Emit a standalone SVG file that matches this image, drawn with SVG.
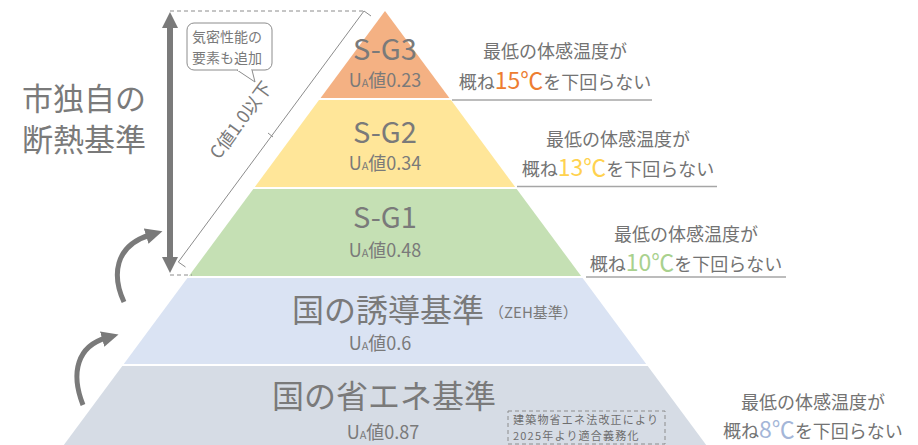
<svg xmlns="http://www.w3.org/2000/svg" width="918" height="445" viewBox="0 0 918 445">
<style>
  text { font-family: "Noto Sans CJK JP", "Noto Sans", sans-serif; fill: #7a7a7a; }
  .big { font-size: 29px; }
  .ua { font-size: 18px; }
  .rt { font-size: 18px; fill: #737373; }
  .num { font-size: 23px; }
  .ul { stroke: #a6a6a6; stroke-width: 1.5; fill: none; }
  .dash { stroke: #8c8c8c; stroke-width: 1; stroke-dasharray: 4 3; fill: none; }
  .arr { stroke: #7a7a7a; stroke-width: 5; fill: none; }
  .thin { stroke: #8c8c8c; stroke-width: 1; fill: none; }
  .note { font-size: 11px; letter-spacing: 1.2px; fill: #6e6e6e; }
</style>
<defs>
  <marker id="ah" markerUnits="userSpaceOnUse" markerWidth="20" markerHeight="20" refX="4" refY="8" orient="auto">
    <path d="M0,0 L17,8 L0,16 Z" fill="#7a7a7a"/>
  </marker>
</defs>
<rect width="918" height="445" fill="#ffffff"/>

<g id="layer-sg3">
  <polygon points="385,11 449.4,98 320.6,98" fill="#F4B183"/>
  <text class="big" x="385" y="60" text-anchor="middle">S-G3</text>
  <text class="ua" x="385" y="87" text-anchor="middle">U<tspan font-size="11">A</tspan>値0.23</text>
</g>
<g id="layer-sg2">
  <polygon points="319,100 451,100 515.2,187 254.8,187" fill="#FFE699"/>
  <text class="big" x="385" y="143" text-anchor="middle">S-G2</text>
  <text class="ua" x="385" y="170" text-anchor="middle">U<tspan font-size="11">A</tspan>値0.34</text>
</g>
<g id="layer-sg1">
  <polygon points="253.3,189 516.7,189 581.1,276 188.9,276" fill="#C5E0B4"/>
  <text class="big" x="385" y="228" text-anchor="middle">S-G1</text>
  <text class="ua" x="385" y="257" text-anchor="middle">U<tspan font-size="11">A</tspan>値0.48</text>
</g>
<g id="layer-zeh">
  <polygon points="187.4,278 582.6,278 646.2,364 123.8,364" fill="#DAE3F3"/>
  <text x="388" y="322" text-anchor="middle" font-size="32">国の誘導基準</text>
  <text x="489" y="318" font-size="15">（ZEH基準）</text>
  <text class="ua" x="380" y="350" text-anchor="middle">U<tspan font-size="11">A</tspan>値0.6</text>
</g>
<g id="layer-energy">
  <polygon points="122.3,366 647.7,366 706.2,445 63.8,445" fill="#D6DCE5"/>
  <text x="384" y="408" text-anchor="middle" font-size="32">国の省エネ基準</text>
  <text class="ua" x="383" y="439" text-anchor="middle">U<tspan font-size="11">A</tspan>値0.87</text>
  <rect class="dash" x="508" y="411" width="157" height="33" stroke-width="1.5"/>
  <text class="note" x="513" y="423.5">建築物省エネ法改正により</text>
  <text class="note" x="513" y="440">2025年より適合義務化</text>
</g>

<g id="label-sg3">
  <text class="rt" x="555" y="58" text-anchor="middle">最低の体感温度が</text>
  <text class="rt" x="555" y="89" text-anchor="middle">概ね<tspan class="num" fill="#ED7D31">15℃</tspan>を下回らない</text>
  <line class="ul" x1="452" y1="100" x2="652" y2="100"/>
</g>
<g id="label-sg2">
  <text class="rt" x="618" y="146" text-anchor="middle">最低の体感温度が</text>
  <text class="rt" x="618" y="176" text-anchor="middle">概ね<tspan class="num" fill="#FFD24F">13℃</tspan>を下回らない</text>
  <line class="ul" x1="517" y1="186.5" x2="717" y2="186.5"/>
</g>
<g id="label-sg1">
  <text class="rt" x="686" y="241" text-anchor="middle">最低の体感温度が</text>
  <text class="rt" x="686" y="271" text-anchor="middle">概ね<tspan class="num" fill="#A9D18E">10℃</tspan>を下回らない</text>
  <line class="ul" x1="586" y1="277" x2="786" y2="277"/>
</g>
<g id="label-energy">
  <text class="rt" x="813" y="409" text-anchor="middle">最低の体感温度が</text>
  <text class="rt" x="813" y="438" text-anchor="middle">概ね<tspan class="num" fill="#A4B6D8">8℃</tspan>を下回らない</text>
</g>

<g id="title">
  <text x="22" y="110" font-size="31">市独自の</text>
  <text x="22" y="151" font-size="31">断熱基準</text>
</g>

<g id="callout">
  <rect x="187" y="23" width="85" height="47" rx="7" fill="#ffffff" stroke="#8c8c8c" stroke-width="1"/>
  <path d="M237,70 L255,82 L252,70" fill="#ffffff" stroke="#8c8c8c" stroke-width="1"/>
  <line x1="238" y1="70" x2="251" y2="70" stroke="#ffffff" stroke-width="2"/>
  <text x="192" y="42" font-size="14" fill="#666">気密性能の</text>
  <text x="192" y="63" font-size="14" fill="#666">要素も追加</text>
</g>

<g id="c-value">
  <line class="thin" x1="364" y1="11" x2="178.3" y2="262"/>
  <line class="thin" x1="364" y1="11" x2="371" y2="16"/>
  <line class="thin" x1="178.3" y1="262" x2="185.5" y2="267"/>
  <line class="thin" x1="268" y1="133" x2="273" y2="137"/>
  <text x="246" y="124" font-size="18" text-anchor="middle" transform="rotate(-53.5 246 124)">C値1.0以下</text>
</g>

<g id="connectors">
  <line class="dash" x1="170" y1="11" x2="364" y2="11"/>
  <line class="dash" x1="170" y1="275" x2="192" y2="275"/>
  <line x1="170" y1="26" x2="170" y2="258" stroke="#7a7a7a" stroke-width="6"/>
  <path d="M170,12 L178,28 L162,28 Z" fill="#7a7a7a"/>
  <path d="M170,273 L178,257 L162,257 Z" fill="#7a7a7a"/>
  <path class="arr" d="M124,302 C112,276 114,246 150,235" marker-end="url(#ah)"/>
  <path class="arr" d="M83,405 C70,372 78,346 106,338" marker-end="url(#ah)"/>
</g>
</svg>
